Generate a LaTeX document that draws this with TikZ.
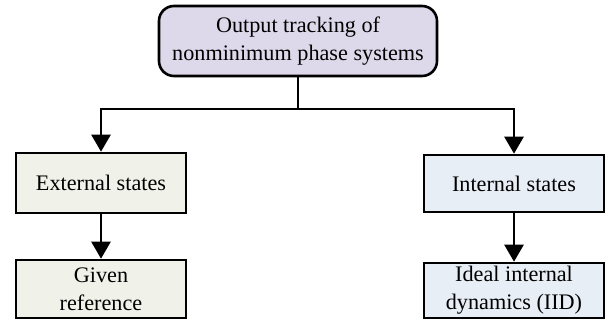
\documentclass[tikz,border=0pt]{standalone}
\usepackage{fontspec}
\setmainfont{Liberation Serif}
\usetikzlibrary{arrows.meta}
\definecolor{topfill}{RGB}{221,217,234}
\definecolor{extfill}{RGB}{240,241,233}
\definecolor{intfill}{RGB}{232,238,246}
\tikzset{
    box/.style={draw, line width=1.3pt, align=center, inner sep=0pt,
        font=\fontsize{11.1}{14}\selectfont},
    arr/.style={line width=1.3pt, -{Triangle[length=8.5pt,width=9.5pt]}}
}
\begin{document}
\begin{tikzpicture}[x=0.5pt,y=-0.5pt]
    \useasboundingbox (0,0) rectangle (608,320);

    \node[box, fill=topfill, rounded corners=7.5pt, minimum width=139pt, minimum height=35pt] (track) at (298,41) {Output tracking of\\nonminimum phase systems};

    \node[box, fill=extfill, minimum width=85pt, minimum height=30pt] (ext) at (101,183) {External states};
    \node[box, fill=extfill, minimum width=85pt, minimum height=29pt] (given) at (101,289) {Given\\reference};

    \node[box, fill=intfill, minimum width=90pt, minimum height=28.5pt] (int) at (514,183.5) {Internal states};
    \node[box, fill=intfill, minimum width=90pt, minimum height=27.5pt] (iid) at (514,290.5) {Ideal internal\\dynamics (IID)};

    %Lineas que unen las cajas
    \coordinate (fork) at (298,109);
    \draw[line width=1.3pt] (track) -- (fork);
    \draw[arr] (fork) -| (ext);
    \draw[arr] (fork) -| (int);
    \draw[arr] (ext) -- (given);
    \draw[arr] (int) -- (iid);

\end{tikzpicture}
\end{document}
